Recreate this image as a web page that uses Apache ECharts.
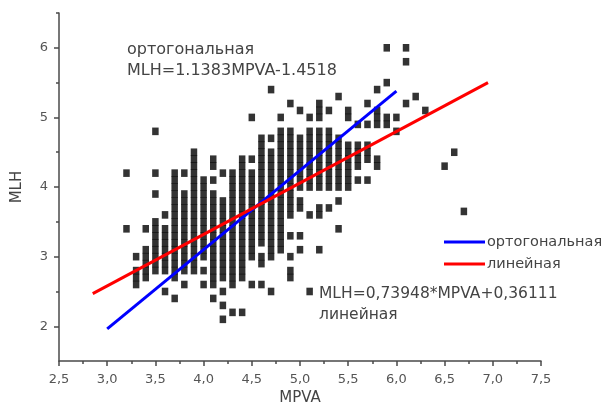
<!DOCTYPE html>
<html>
<head>
<meta charset="utf-8">
<script src="https://cdn.jsdelivr.net/npm/echarts@6/dist/echarts.min.js"></script>
<style>
  html, body { margin: 0; padding: 0; background: #fff; }
  #chart { width: 608px; height: 411px; }
</style>
</head>
<body>
<div id="chart"></div>
<script>
// MPVA columns (x) and the MLH values (y) measured at each of them
const mpvaCols = [3.2, 3.3, 3.4, 3.5, 3.6, 3.7, 3.8, 3.9, 4.0, 4.1, 4.2, 4.3, 4.4, 4.5, 4.6, 4.7, 4.8, 4.9,
  5.0, 5.1, 5.2, 5.3, 5.4, 5.5, 5.6, 5.7, 5.8, 5.9, 6.0, 6.1, 6.2, 6.3, 6.5, 6.6, 6.7];
const mlhCols = [
  [3.4, 4.2],
  [2.6, 2.7, 2.8, 3.0],
  [2.7, 2.8, 2.9, 3.0, 3.1, 3.4],
  [2.8, 2.9, 3.0, 3.1, 3.2, 3.3, 3.4, 3.5, 3.9, 4.2, 4.8],
  [2.5, 2.8, 2.9, 3.0, 3.1, 3.2, 3.3, 3.4, 3.6],
  [2.4, 2.7, 2.8, 2.9, 3.0, 3.1, 3.2, 3.3, 3.4, 3.5, 3.6, 3.7, 3.8, 3.9, 4.0, 4.1, 4.2],
  [2.6, 2.8, 2.9, 3.0, 3.1, 3.2, 3.3, 3.4, 3.5, 3.6, 3.7, 3.8, 3.9, 4.2],
  [2.8, 2.9, 3.0, 3.1, 3.2, 3.3, 3.4, 3.5, 3.6, 3.7, 3.8, 3.9, 4.0, 4.1, 4.2, 4.3, 4.4, 4.5],
  [2.6, 2.8, 3.0, 3.1, 3.2, 3.3, 3.4, 3.5, 3.6, 3.7, 3.8, 3.9, 4.0, 4.1],
  [2.4, 2.6, 2.7, 2.8, 2.9, 3.0, 3.1, 3.2, 3.3, 3.4, 3.5, 3.6, 3.7, 3.8, 3.9, 4.1, 4.3, 4.4],
  [2.1, 2.3, 2.5, 2.7, 2.8, 2.9, 3.0, 3.1, 3.2, 3.3, 3.4, 3.5, 3.6, 3.7, 3.8, 4.2],
  [2.2, 2.6, 2.7, 2.8, 2.9, 3.0, 3.1, 3.2, 3.3, 3.4, 3.5, 3.6, 3.7, 3.8, 3.9, 4.0, 4.1, 4.2],
  [2.2, 2.7, 2.8, 2.9, 3.0, 3.1, 3.2, 3.3, 3.4, 3.5, 3.6, 3.7, 3.8, 3.9, 4.0, 4.1, 4.2, 4.3, 4.4],
  [2.6, 3.0, 3.1, 3.2, 3.3, 3.4, 3.5, 3.6, 3.7, 3.8, 3.9, 4.0, 4.1, 4.2, 4.4, 5.0],
  [2.6, 2.9, 3.0, 3.2, 3.3, 3.4, 3.5, 3.6, 3.7, 3.8, 3.9, 4.0, 4.1, 4.2, 4.3, 4.4, 4.5, 4.6, 4.7],
  [2.5, 3.0, 3.1, 3.2, 3.3, 3.4, 3.5, 3.6, 3.7, 3.8, 3.9, 4.0, 4.1, 4.2, 4.3, 4.4, 4.5, 4.7, 5.4],
  [3.1, 3.2, 3.3, 3.4, 3.5, 3.6, 3.7, 3.8, 3.9, 4.0, 4.1, 4.2, 4.3, 4.4, 4.5, 4.6, 4.7, 4.8, 5.0],
  [2.7, 2.8, 3.0, 3.3, 3.6, 3.7, 3.8, 3.9, 4.0, 4.1, 4.2, 4.3, 4.4, 4.5, 4.6, 4.7, 4.8, 5.2],
  [3.1, 3.3, 3.7, 3.8, 4.0, 4.1, 4.2, 4.3, 4.4, 4.5, 4.6, 4.7, 5.1],
  [2.5, 3.6, 4.0, 4.1, 4.2, 4.3, 4.4, 4.5, 4.6, 4.7, 4.8, 5.0],
  [3.1, 3.6, 3.7, 4.0, 4.1, 4.2, 4.3, 4.4, 4.5, 4.6, 4.7, 4.8, 5.0, 5.1, 5.2],
  [3.7, 4.0, 4.1, 4.2, 4.3, 4.4, 4.5, 4.6, 4.7, 4.8, 5.1],
  [3.4, 3.8, 4.0, 4.1, 4.2, 4.3, 4.4, 4.5, 4.6, 4.7, 5.3],
  [4.0, 4.1, 4.2, 4.3, 4.4, 4.5, 4.6, 5.0, 5.1],
  [4.1, 4.3, 4.4, 4.5, 4.6, 4.9],
  [4.1, 4.4, 4.5, 4.6, 4.9, 5.2],
  [4.3, 4.4, 4.9, 5.0, 5.1, 5.4],
  [4.9, 5.0, 5.5, 6.0],
  [4.8, 5.0],
  [5.2, 5.8, 6.0],
  [5.3],
  [5.1],
  [4.3],
  [4.5],
  [3.65]
];

// fitted lines, end points as drawn
const orthoLine = [[3.0, 1.963], [6.0, 5.378]];
const linearLine = [[2.85, 2.469], [6.95, 5.50]];

const yMajor = [2, 3, 4, 5, 6];
const yMinor = [2.5, 3.5, 4.5, 5.5, 6.5];

const points = [];
mpvaCols.forEach(function (x, i) {
  mlhCols[i].forEach(function (y) { points.push([x, y]); });
});

const axisColor = '#4a4a4a';
const font = 'DejaVu Sans';

let myChart = echarts.init(document.getElementById('chart'));

let option = {
  animation: false,
  textStyle: { fontFamily: font },
  grid: { left: 59, right: 67, top: 13, bottom: 44 },
  legend: {
    data: ['ортогональная', 'линейная'],
    orient: 'vertical',
    left: 439,
    top: 229,
    icon: 'rect',
    itemWidth: 41,
    itemHeight: 3,
    itemGap: 6,
    textStyle: { fontFamily: font, fontSize: 14.5, color: '#444', lineHeight: 16, padding: [0, 0, 0, -3] }
  },
  xAxis: {
    type: 'value',
    min: 2.5,
    max: 7.5,
    interval: 0.5,
    name: 'MPVA',
    nameLocation: 'middle',
    nameGap: 28,
    nameTextStyle: { fontFamily: font, fontSize: 15, color: '#444' },
    axisLine: { lineStyle: { color: axisColor, width: 1.5 } },
    axisTick: { length: 5, lineStyle: { color: axisColor, width: 1.5 } },
    minorTick: { show: true, splitNumber: 2, length: 3, lineStyle: { color: axisColor, width: 1.5 } },
    splitLine: { show: false },
    axisLabel: {
      margin: 12,
      fontSize: 13,
      color: '#555',
      formatter: function (v) { return v.toFixed(1).replace('.', ','); }
    }
  },
  yAxis: [
    {
      type: 'value',
      min: 1.5,
      max: 6.5,
      interval: 0.5,
      name: 'MLH',
      nameLocation: 'middle',
      nameGap: 34,
      nameTextStyle: { fontFamily: font, fontSize: 15, color: '#444' },
      axisLine: { show: true, lineStyle: { color: axisColor, width: 1.5 } },
      axisTick: { customValues: yMajor, length: 5, lineStyle: { color: axisColor, width: 1.5 } },
      axisLabel: { customValues: yMajor, margin: 11, fontSize: 13, color: '#555' },
      splitLine: { show: false }
    },
    {
      type: 'value',
      position: 'left',
      offset: 0,
      min: 1.5,
      max: 6.5,
      interval: 0.5,
      axisLine: { show: false },
      axisTick: { show: true, customValues: yMinor, length: 3, lineStyle: { color: axisColor, width: 1.5 } },
      axisLabel: { show: false },
      splitLine: { show: false }
    }
  ],
  graphic: [
    { type: 'text', left: 127, top: 42, style: { text: 'ортогональная', font: '16px "DejaVu Sans"', fill: '#444' } },
    { type: 'text', left: 127, top: 63, style: { text: 'MLH=1.1383MPVA-1.4518', font: '16px "DejaVu Sans"', fill: '#444' } },
    { type: 'text', left: 319, top: 286, style: { text: 'MLH=0,73948*MPVA+0,36111', font: '15.5px "DejaVu Sans"', fill: '#444' } },
    { type: 'text', left: 319, top: 307, style: { text: 'линейная', font: '15.5px "DejaVu Sans"', fill: '#444' } }
  ],
  series: [
    {
      name: 'MLH',
      type: 'scatter',
      symbol: 'rect',
      symbolSize: [6.5, 7.6],
      itemStyle: { color: '#000' },
      data: points,
      z: 2
    },
    {
      name: 'ортогональная',
      type: 'line',
      data: orthoLine,
      showSymbol: false,
      lineStyle: { color: '#0000ff', width: 3 },
      itemStyle: { color: '#0000ff' },
      z: 3
    },
    {
      name: 'линейная',
      type: 'line',
      data: linearLine,
      showSymbol: false,
      lineStyle: { color: '#ff0000', width: 3 },
      itemStyle: { color: '#ff0000' },
      z: 4
    }
  ]
};

myChart.setOption(option);
</script>
</body>
</html>
